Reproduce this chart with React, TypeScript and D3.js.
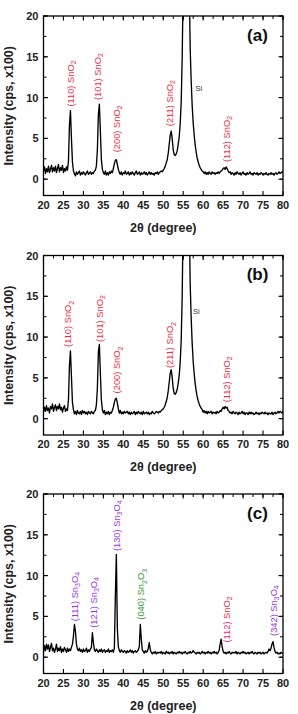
import React from "react";
import * as d3 from "d3";

// 2θ grid: 20° → 80° in 0.25° steps (each row below = one degree: .00 .25 .50 .75)
const START_2THETA = 20;
const STEP_2THETA = 0.25;

const intensityA = [
  1.0, 1.5, 0.7, 1.3,
  0.9, 1.6, 0.8, 1.2,
  1.7, 0.9, 1.4, 1.0,
  1.6, 0.8, 1.3, 1.8,
  0.9, 1.4, 1.1, 1.7,
  0.8, 1.3, 1.0, 1.5,
  1.1, 2.2, 6.6, 8.4,
  5.0, 2.1, 1.0, 0.7,
  0.4, 0.9, 0.6, 0.8,
  1.0, 0.5, 0.8, 0.6,
  0.9, 0.7, 0.5, 0.8,
  1.0, 0.6, 0.7, 0.9,
  0.6, 0.8, 0.7, 1.0,
  1.1, 1.6, 3.6, 8.0,
  9.2, 5.8, 2.4, 1.2,
  0.8, 0.6, 1.0, 0.5,
  0.8, 0.5, 0.9, 0.7,
  1.0, 0.8, 1.3, 1.9,
  2.3, 2.4, 1.8, 1.2,
  0.8, 0.6, 0.9, 0.5,
  0.8, 0.7, 1.0, 0.6,
  0.7, 0.9, 0.5, 0.8,
  0.6, 0.9, 0.7, 0.5,
  0.8, 1.0, 0.6, 0.7,
  0.9, 0.5, 0.8, 0.6,
  0.7, 0.9, 0.6, 0.8,
  0.5, 0.7, 0.9, 0.6,
  0.8, 0.6, 0.7, 0.5,
  0.8, 0.7, 0.9, 0.6,
  0.8, 0.9, 1.0, 0.9,
  1.1, 1.3, 1.6, 2.0,
  2.4, 3.2, 4.3, 5.4,
  5.9, 4.9, 3.6, 3.0,
  2.9, 3.1, 3.5, 4.3,
  5.2, 6.8, 9.5, 15.0,
  24, 40, 55, 60,
  55, 40, 24, 16,
  12.0, 9.0, 6.9, 5.4,
  4.2, 3.3, 2.6, 2.1,
  1.7, 1.4, 1.2, 1.0,
  0.9, 0.7, 0.9, 0.6,
  0.8, 0.6, 0.9, 0.7,
  0.6, 0.9, 0.7, 0.8,
  0.6, 0.8, 0.7, 0.9,
  0.7, 0.9, 1.0, 1.1,
  1.3, 1.4, 1.2, 1.5,
  1.3, 1.0, 0.8, 0.9,
  0.6, 0.8, 0.7, 0.5,
  0.8, 0.6, 0.9, 0.7,
  0.6, 0.8, 0.5, 0.7,
  0.9, 0.6, 0.7, 0.5,
  0.8, 0.6, 0.7, 0.9,
  0.6, 0.7, 0.5, 0.8,
  0.7, 0.6, 0.8, 0.5,
  0.7, 0.6, 0.8, 0.7,
  0.5, 0.7, 0.6, 0.8,
  0.6, 0.5, 0.7, 0.6,
  0.8, 0.6, 0.7, 0.5,
  0.7, 0.8, 0.6, 0.7,
  0.9, 0.7, 0.8, 0.9,
  0.8,
];

const intensityB = [
  0.8, 1.4, 0.9, 1.6,
  1.0, 1.3, 0.7, 1.5,
  1.2, 1.8, 0.9, 1.4,
  1.7, 1.0, 1.5, 1.2,
  1.8, 1.1, 1.4, 0.8,
  1.3, 1.6, 0.9, 1.2,
  1.0, 2.3, 6.5, 8.3,
  5.2, 2.0, 1.1, 0.6,
  0.9, 0.5, 1.0, 0.7,
  0.6, 0.9, 0.5, 1.0,
  0.7, 0.9, 0.6, 0.8,
  0.5, 0.9, 0.7, 0.6,
  0.9, 0.7, 0.6, 0.9,
  1.0, 1.7, 3.8, 8.2,
  9.1, 5.5, 2.3, 1.1,
  0.7, 1.0, 0.5, 0.8,
  0.6, 0.9, 0.5, 0.8,
  0.7, 1.0, 1.4, 2.0,
  2.4, 2.5, 1.9, 1.2,
  0.7, 1.0, 0.6, 0.8,
  0.6, 0.9, 0.7, 0.8,
  0.9, 0.6, 0.8, 0.5,
  0.8, 0.6, 0.7, 0.9,
  0.5, 0.8, 0.6, 0.9,
  0.7, 0.6, 0.8, 0.5,
  0.9, 0.6, 0.7, 0.8,
  0.6, 0.8, 0.5, 0.7,
  0.6, 0.9, 0.7, 0.6,
  0.7, 0.9, 0.8, 0.7,
  0.9, 0.8, 1.0, 1.1,
  1.2, 1.4, 1.7, 2.1,
  2.6, 3.4, 4.5, 5.6,
  6.0, 5.0, 3.7, 3.1,
  3.0, 3.2, 3.6, 4.4,
  5.3, 6.9, 9.7, 15.2,
  25, 42, 56, 61,
  56, 41, 25, 16.5,
  12.3, 9.2, 7.0, 5.5,
  4.3, 3.4, 2.7, 2.2,
  1.8, 1.5, 1.3, 1.1,
  0.8, 1.0, 0.7, 0.9,
  0.6, 0.9, 0.7, 0.8,
  0.9, 0.6, 0.8, 0.7,
  0.8, 0.6, 0.9, 0.7,
  0.8, 1.0, 0.9, 1.2,
  1.4, 1.2, 1.5, 1.3,
  1.4, 1.0, 0.9, 0.7,
  0.8, 0.6, 0.9, 0.7,
  0.6, 0.8, 0.7, 0.5,
  0.8, 0.6, 0.7, 0.9,
  0.6, 0.8, 0.5, 0.7,
  0.7, 0.5, 0.8, 0.6,
  0.8, 0.6, 0.7, 0.5,
  0.6, 0.8, 0.6, 0.7,
  0.5, 0.7, 0.6, 0.8,
  0.7, 0.6, 0.8, 0.6,
  0.7, 0.5, 0.7, 0.6,
  0.6, 0.8, 0.5, 0.7,
  0.8, 0.6, 0.7, 0.9,
  0.7, 0.9, 0.8, 0.7,
  0.9,
];

const intensityC = [
  0.6, 1.4, 0.8, 1.6,
  1.0, 1.5, 0.7, 1.2,
  1.7, 0.8, 1.1, 0.6,
  1.0, 1.6, 0.7, 1.1,
  0.8, 1.3, 0.6, 1.0,
  0.7, 1.2, 0.9, 0.6,
  1.1, 0.7, 1.0, 0.8,
  1.2, 1.6, 2.6, 4.0,
  3.2, 1.6, 1.0, 0.8,
  1.1, 0.7, 0.9, 0.6,
  1.0, 0.7, 0.8, 1.1,
  0.6, 0.9, 0.7, 1.0,
  1.2, 3.0, 1.8, 0.9,
  0.7, 1.0, 0.8, 0.6,
  0.9, 0.7, 1.0, 0.6,
  0.8, 0.9, 0.6, 0.8,
  0.7, 1.0, 0.6, 0.8,
  0.7, 0.9, 0.6, 1.1,
  7.5, 12.6, 3.5, 1.3,
  0.8, 0.6, 0.9, 0.7,
  0.6, 0.8, 0.7, 0.5,
  0.8, 0.6, 0.7, 0.9,
  0.6, 0.8, 0.5, 0.7,
  0.8, 0.6, 0.7, 0.9,
  1.3, 4.0, 2.2, 0.9,
  0.7, 0.5, 0.8, 0.6,
  0.7, 1.1, 1.8, 0.9,
  0.6, 0.4, 0.6, 0.5,
  0.7, 0.4, 0.6, 0.5,
  0.6, 0.5, 0.7, 0.4,
  0.6, 0.5, 0.4, 0.7,
  0.5, 0.6, 0.4, 0.6,
  0.5, 0.7, 0.4, 0.6,
  0.5, 0.4, 0.6, 0.5,
  0.7, 0.5, 0.6, 0.4,
  0.6, 0.5, 0.7, 0.5,
  0.4, 0.6, 0.5, 0.7,
  0.5, 0.6, 0.8, 0.6,
  0.5, 0.4, 0.6, 0.5,
  0.6, 0.4, 0.5, 0.7,
  0.5, 0.6, 0.4, 0.6,
  0.5, 0.7, 0.5, 0.6,
  0.4, 0.6, 0.5, 0.7,
  0.5, 0.6, 0.4, 0.6,
  0.8, 1.6, 2.2, 1.3,
  0.7, 0.5, 0.6, 0.4,
  0.6, 0.5, 0.7, 0.5,
  0.4, 0.6, 0.5, 0.6,
  0.5, 0.7, 0.4, 0.6,
  0.5, 0.4, 0.6, 0.5,
  0.7, 0.5, 0.6, 0.4,
  0.5, 0.6, 0.4, 0.6,
  0.5, 0.7, 0.5, 0.4,
  0.6, 0.5, 0.4, 0.6,
  0.5, 0.6, 0.4, 0.5,
  0.6, 0.4, 0.5, 0.6,
  0.5, 0.7, 1.0, 0.8,
  1.1, 1.6, 1.9, 1.2,
  0.7, 0.5, 0.6, 0.4,
  0.5, 0.4, 0.6, 0.5,
  0.4,
];

const xTicks = [20, 25, 30, 35, 40, 45, 50, 55, 60, 65, 70, 75, 80];
const yTicks = [0, 5, 10, 15, 20];
const panelLetters = ["(a)", "(b)", "(c)"];

const RED = "#f02a45";
const PINK = "#e6287a";
const PURPLE = "#9b35ea";
const GREEN = "#2b9a2b";

// peak annotations: [hkl, phase, 2θ position, intensity where text starts, hkl colour, phase colour]
type Ann = [string, string, number, number, string, string];
const annotationsA: Ann[] = [
  ["(110)", "SnO2", 26.9, 8.9, RED, RED],
  ["(101)", "SnO2", 33.6, 9.7, RED, RED],
  ["(200)", "SnO2", 38.3, 3.3, RED, RED],
  ["(211)", "SnO2", 51.6, 6.5, RED, RED],
  ["(112)", "SnO2", 66.0, 2.1, RED, RED],
];
const annotationsB: Ann[] = [
  ["(110)", "SnO2", 26.2, 8.8, RED, RED],
  ["(101)", "SnO2", 34.1, 9.4, RED, RED],
  ["(200)", "SnO2", 38.5, 3.1, RED, RED],
  ["(211)", "SnO2", 51.8, 6.2, RED, RED],
  ["(112)", "SnO2", 65.9, 2.0, RED, RED],
];
const annotationsC: Ann[] = [
  ["(111)", "Sn3O4", 27.9, 4.4, PURPLE, PURPLE],
  ["(121)", "Sn3O4", 32.6, 3.6, PURPLE, PURPLE],
  ["(130)", "Sn3O4", 38.3, 13.0, PURPLE, PURPLE],
  ["(040)", "Sn2O3", 44.5, 4.6, GREEN, GREEN],
  ["(112)", "SnO2", 66.0, 1.8, PINK, RED],
  ["(342)", "Sn3O4", 77.7, 2.6, PURPLE, PURPLE],
];
// "Si" marker: [2θ, intensity]
const siA: [number, number] = [58.9, 11.2];
const siB: [number, number] = [58.3, 13.2];

const W = 298;
const H = 714;
const LEFT = 43.5;
const RIGHT = 283;
const PANEL_H = 179.5;
const TOPS = [16, 255.5, 494];

const panels = [
  { values: intensityA, anns: annotationsA, si: siA as [number, number] | null },
  { values: intensityB, anns: annotationsB, si: siB as [number, number] | null },
  { values: intensityC, anns: annotationsC, si: null as [number, number] | null },
];

const tickFont = "'Liberation Sans', Arial, sans-serif";

function Formula({ text, color }: { text: string; color: string }) {
  const parts: { t: string; sub: boolean }[] = [];
  for (const ch of text) {
    const sub = /[0-9]/.test(ch);
    const last = parts[parts.length - 1];
    if (last && last.sub === sub) last.t += ch;
    else parts.push({ t: ch, sub });
  }
  let prevSub = false;
  return (
    <>
      {parts.map((p, i) => {
        const dy = p.sub && !prevSub ? 2.3 : !p.sub && prevSub ? -2.3 : 0;
        prevSub = p.sub;
        return (
          <tspan key={i} dy={dy} fontSize={p.sub ? 7 : 9.3} fill={color}>
            {p.t}
          </tspan>
        );
      })}
    </>
  );
}

function Panel({ idx }: { idx: number }) {
  const top = TOPS[idx];
  const bottom = top + PANEL_H;
  const { values, anns, si } = panels[idx];
  const x = d3.scaleLinear().domain([20, 80]).range([LEFT, RIGHT]);
  const y = d3.scaleLinear().domain([-2, 20]).range([bottom, top]);
  const pts: [number, number][] = values.map((v, i) => [START_2THETA + i * STEP_2THETA, v]);
  const line = d3
    .line<[number, number]>()
    .x((d) => x(d[0]))
    .y((d) => y(d[1]));
  const clipId = `clip-${idx}`;
  const xMinor = d3.range(20, 80.01, 2.5);
  const yMinor = d3.range(-2.5, 20.01, 2.5).filter((v) => v >= -2);
  const midY = (top + bottom) / 2;
  return (
    <g>
      <defs>
        <clipPath id={clipId}>
          <rect x={LEFT} y={top} width={RIGHT - LEFT} height={PANEL_H} />
        </clipPath>
      </defs>
      <path
        d={line(pts) || ""}
        fill="none"
        stroke="#000"
        strokeWidth={1.35}
        strokeLinejoin="round"
        clipPath={`url(#${clipId})`}
      />
      {/* frame */}
      <rect x={LEFT} y={top} width={RIGHT - LEFT} height={PANEL_H} fill="none" stroke="#000" strokeWidth={1.3} />
      {/* x ticks */}
      {xTicks.map((t) => (
        <g key={`xt${t}`}>
          <line x1={x(t)} x2={x(t)} y1={bottom} y2={bottom - 4.5} stroke="#000" strokeWidth={1.1} />
          <line x1={x(t)} x2={x(t)} y1={top} y2={top + 4.5} stroke="#000" strokeWidth={1.1} />
          <text
            x={x(t)}
            y={bottom + 13}
            textAnchor="middle"
            fontFamily={tickFont}
            fontWeight="bold"
            fontSize={11}
            fill="#222"
          >
            {t}
          </text>
        </g>
      ))}
      {xMinor.map((t) => (
        <line key={`xm${t}`} x1={x(t)} x2={x(t)} y1={top} y2={top + 3} stroke="#000" strokeWidth={1} />
      ))}
      {/* y ticks */}
      {yMinor.map((t) => (
        <g key={`ym${t}`}>
          <line x1={LEFT} x2={LEFT + 3} y1={y(t)} y2={y(t)} stroke="#000" strokeWidth={1} />
          <line x1={RIGHT} x2={RIGHT - 3} y1={y(t)} y2={y(t)} stroke="#000" strokeWidth={1} />
        </g>
      ))}
      {yTicks.map((t) => (
        <g key={`yt${t}`}>
          <line x1={LEFT} x2={LEFT + 4.5} y1={y(t)} y2={y(t)} stroke="#000" strokeWidth={1.1} />
          <line x1={RIGHT} x2={RIGHT - 4.5} y1={y(t)} y2={y(t)} stroke="#000" strokeWidth={1.1} />
          <text
            x={LEFT - 5}
            y={y(t) + 4}
            textAnchor="end"
            fontFamily={tickFont}
            fontWeight="bold"
            fontSize={11}
            fill="#222"
          >
            {t}
          </text>
        </g>
      ))}
      {/* axis titles */}
      <text
        x={(LEFT + RIGHT) / 2}
        y={bottom + 36}
        textAnchor="middle"
        fontFamily={tickFont}
        fontWeight="bold"
        fontSize={12.5}
        fill="#222"
      >
        2θ (degree)
      </text>
      <text
        transform={`translate(12.5,${midY}) rotate(-90)`}
        textAnchor="middle"
        fontFamily={tickFont}
        fontWeight="bold"
        fontSize={12.5}
        fill="#222"
      >
        Intensity (cps, x100)
      </text>
      {/* panel letter */}
      <text
        x={257.5}
        y={top + 24.5}
        textAnchor="middle"
        fontFamily={tickFont}
        fontWeight="bold"
        fontSize={17}
        fill="#111"
      >
        {panelLetters[idx]}
      </text>
      {/* peak annotations */}
      {anns.map((a, i) => (
        <text
          key={`an${i}`}
          transform={`translate(${x(a[2]) + 3},${y(a[3])}) rotate(-90)`}
          fontFamily={tickFont}
          fontSize={9.3}
        >
          <tspan fill={a[4]}>{a[0]} </tspan>
          <Formula text={a[1]} color={a[5]} />
        </text>
      ))}
      {si && (
        <text x={x(si[0])} y={y(si[1]) + 3} textAnchor="middle" fontFamily={tickFont} fontSize={7.5} fill="#333">
          Si
        </text>
      )}
    </g>
  );
}

export default function App() {
  return (
    <svg
      width={W}
      height={H}
      viewBox={`0 0 ${W} ${H}`}
      style={{ position: "absolute", left: 0, top: 0, background: "#fff" }}
    >
      <rect width={W} height={H} fill="#fff" />
      {[0, 1, 2].map((i) => (
        <Panel key={i} idx={i} />
      ))}
    </svg>
  );
}
